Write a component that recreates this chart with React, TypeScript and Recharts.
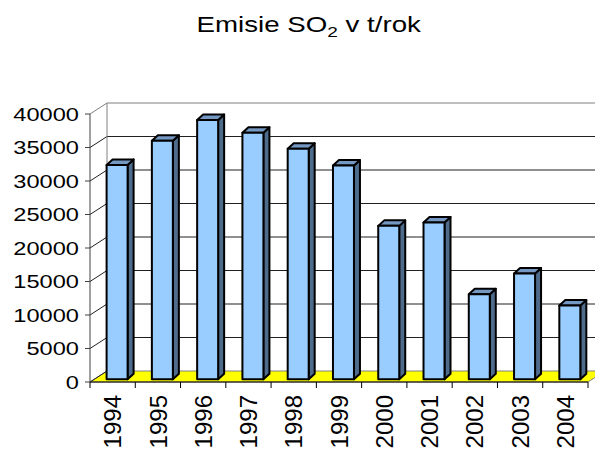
import { BarChart, Bar, XAxis, YAxis, CartesianGrid } from 'recharts'

const years = ['1994', '1995', '1996', '1997', '1998', '1999', '2000', '2001', '2002', '2003', '2004']
const emisie = [32000, 35600, 38700, 36800, 34400, 31900, 22900, 23400, 12700, 15800, 11000]
const yTicks = [0, 5000, 10000, 15000, 20000, 25000, 30000, 35000, 40000]

const data = years.map((year, i) => ({ year, emisie: emisie[i] }))

// 3D look: back wall offset and bar depth
const WALL_DX = 17
const WALL_DY = -11
const BAR_DX = 4.6
const BAR_DY = -2.7
const CAP_DX = 6
const CAP_DY = -5.5

const FONT = '"Liberation Sans", Arial, sans-serif'

const renderGridLine = (props: any) => {
  const { x1, x2, y1, index, y, height } = props
  const by = y1 + WALL_DY
  const isBottom = height != null && Math.abs(y1 - (y + height)) < 0.5
  const isTop = y != null && Math.abs(y1 - y) < 0.5
  return (
    <g key={`grid-${index}`}>
      {isBottom && (
        <polygon
          points={`${x1},${y1} ${x2},${y1} ${x2 + WALL_DX},${by} ${x1 + WALL_DX},${by}`}
          fill="#ffff00"
          stroke="#808080"
          strokeWidth={1}
        />
      )}
      {isTop && (
        <line x1={x1 + WALL_DX} y1={by} x2={x1 + WALL_DX} y2={by + height} stroke="#808080" strokeWidth={1} />
      )}
      <line x1={x1} y1={y1} x2={x1 + WALL_DX} y2={by} stroke={isTop ? '#808080' : '#202020'} strokeWidth={1} />
      {!isBottom && (
        <line x1={x1 + WALL_DX} y1={by} x2={x2 + WALL_DX} y2={by} stroke={isTop ? '#808080' : '#202020'} strokeWidth={1} />
      )}
    </g>
  )
}

const Bar3D = (props: any) => {
  const { x, y, width, height } = props
  if (height == null || height <= 0) return null
  const fx = x + BAR_DX
  const fy = y + BAR_DY
  const w = width
  return (
    <g stroke="#000" strokeWidth={2} strokeLinejoin="round">
      <polygon
        points={`${fx + w},${fy} ${fx + w + CAP_DX},${fy + CAP_DY} ${fx + w + CAP_DX},${fy + height + CAP_DY} ${fx + w},${fy + height}`}
        fill="#4f6b8c"
      />
      <polygon
        points={`${fx},${fy} ${fx + CAP_DX},${fy + CAP_DY} ${fx + w + CAP_DX},${fy + CAP_DY} ${fx + w},${fy}`}
        fill="#7598c2"
      />
      <rect x={fx} y={fy} width={w} height={height} fill="#99ccff" />
    </g>
  )
}

const YTick = (props: any) => {
  const { x, y, payload } = props
  return (
    <g transform={`translate(${x},${y}) scale(1.27,1)`}>
      <text x={0} y={0} dy="0.36em" textAnchor="end" fontSize={18.6} fontFamily={FONT} fill="#000">
        {payload.value}
      </text>
    </g>
  )
}

const XTick = (props: any) => {
  const { x, y, payload, index } = props
  const half = payload.offset ?? 22.6
  const ay = y - 13
  const isLast = payload.value === years[years.length - 1] || index === years.length - 1
  return (
    <g>
      <line x1={x - half} y1={ay} x2={x - half} y2={ay + 6} stroke="#000" strokeWidth={1} />
      {isLast && <line x1={x + half} y1={ay} x2={x + half} y2={ay + 6} stroke="#000" strokeWidth={1} />}
      <text
        transform={`translate(${x},${y}) rotate(-90)`}
        x={0}
        y={0}
        dy="0.36em"
        textAnchor="end"
        fontSize={24}
        fontFamily={FONT}
        fill="#000"
      >
        {payload.value}
      </text>
    </g>
  )
}

export default function App() {
  return (
    <div style={{ position: 'absolute', left: 0, top: 0, width: 595, height: 453, background: '#fff' }}>
      <BarChart
        width={595}
        height={453}
        data={data}
        margin={{ top: 114, right: 7, left: 0, bottom: 0 }}
        barSize={21}
      >
        <CartesianGrid vertical={false} horizontal={renderGridLine} />
        <XAxis
          dataKey="year"
          height={71}
          axisLine={{ stroke: '#000', strokeWidth: 1 }}
          tickLine={false}
          tickSize={6}
          tickMargin={7}
          interval={0}
          tick={<XTick />}
        />
        <YAxis
          width={90}
          domain={[0, 40000]}
          ticks={yTicks}
          interval={0}
          axisLine={{ stroke: '#404040', strokeWidth: 1 }}
          tickLine={{ stroke: '#404040', strokeWidth: 1 }}
          tickSize={5}
          tickMargin={6}
          tick={<YTick />}
        />
        <Bar dataKey="emisie" shape={<Bar3D />} isAnimationActive={false} />
      </BarChart>
      <svg width={595} height={60} style={{ position: 'absolute', left: 0, top: 0, pointerEvents: 'none' }}>
        <text
          transform="translate(308.7,32.3) scale(1.27,1)"
          x={0}
          y={0}
          textAnchor="middle"
          fontSize={21.8}
          fontFamily={FONT}
          fill="#000"
        >
          Emisie SO
          <tspan fontSize={15} dy={5}>2</tspan>
          <tspan dy={-5}> v t/rok</tspan>
        </text>
      </svg>
    </div>
  )
}
